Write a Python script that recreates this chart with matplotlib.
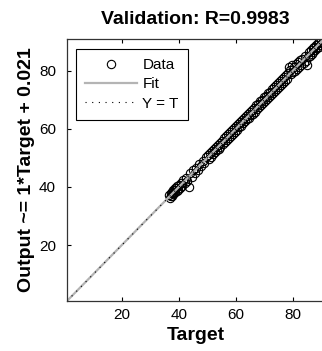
import matplotlib
matplotlib.use('Agg')
import matplotlib.pyplot as plt
import numpy as np
from matplotlib.font_manager import FontProperties

plt.rcParams['font.family'] = ['Liberation Sans', 'DejaVu Sans']
plt.rcParams['xtick.direction'] = 'in'
plt.rcParams['ytick.direction'] = 'in'
plt.rcParams['xtick.top'] = True
plt.rcParams['ytick.right'] = False

# validation data (targets vs network outputs)
targets = [36.6, 36.9, 37.1, 37.3, 37.5, 37.7, 37.9, 38.0, 38.2, 38.4,
           38.6, 38.8, 39.0, 39.2, 39.4, 39.7, 39.9, 40.3, 40.6, 41.0,
           41.5, 42.0, 42.6, 43.0, 43.5, 44.0, 44.5, 45.0, 45.5, 46.0,
           46.6, 47.2, 47.8, 48.4, 49.0, 49.6,
           50.2, 50.6, 51.0, 51.3, 51.6, 52.0, 52.3, 52.6, 53.0, 53.3,
           53.6, 54.0, 54.3, 54.6, 55.0, 55.4,
           56.0, 56.3, 56.7, 57.0, 57.4, 57.7, 58.1, 58.4, 58.8, 59.1,
           59.5, 59.8, 60.2, 60.5, 60.9, 61.2, 61.6, 61.9, 62.3, 62.6,
           63.0, 63.3, 63.7, 64.0, 64.4, 64.7, 65.1, 65.4, 65.8, 66.1,
           66.5, 66.8, 67.2, 67.5, 67.9, 68.2, 68.6, 68.9, 69.3, 69.6,
           70.0, 70.3, 70.7, 71.0, 71.4, 71.7, 72.1, 72.4, 72.8, 73.1,
           73.5, 73.8, 74.2, 74.5, 74.9, 75.2, 75.6, 75.9, 76.3, 76.6,
           77.0, 77.4, 77.8, 78.1, 78.5, 78.8, 79.2, 79.5, 79.9, 80.2,
           80.6, 80.9, 81.3, 81.6, 82.0, 82.3, 82.7, 83.0, 83.4, 83.8,
           84.2, 84.6, 85.0, 85.5,
           85.8, 86.1, 86.4, 86.7, 87.0, 87.3, 87.6, 87.9, 88.2, 88.5,
           88.8, 89.1, 89.4, 89.7, 90.0, 90.3]
outputs = [37.4, 36.2, 38.0, 36.9, 38.3, 37.0, 38.9, 37.5, 39.1, 37.8,
           39.5, 38.1, 39.8, 38.6, 40.2, 39.0, 40.7, 39.6, 41.3, 40.4,
           42.3, 41.4, 43.2, 42.1, 40.0, 44.7, 43.6, 45.7, 44.8, 46.5,
           45.9, 47.9, 47.1, 49.0, 48.3, 50.2,
           51.0, 49.6, 51.8, 50.5, 52.5, 51.2, 53.2, 51.9, 53.9, 52.6,
           54.5, 53.2, 55.1, 53.9, 55.8, 54.7,
           56.9, 55.6, 57.5, 56.3, 58.2, 57.0, 58.9, 57.6, 59.7, 58.4,
           60.3, 59.0, 61.1, 59.8, 61.6, 60.5, 62.5, 61.1, 63.1, 61.9,
           63.8, 62.6, 64.4, 63.3, 65.3, 63.9, 65.8, 64.8, 66.6, 65.3,
           67.3, 66.0, 68.1, 66.8, 68.6, 67.6, 69.5, 68.2, 70.0, 69.0,
           70.9, 69.6, 71.5, 70.3, 72.3, 71.0, 72.9, 71.7, 73.7, 72.4,
           74.3, 73.2, 75.1, 73.8, 75.8, 74.5, 76.5, 75.2, 77.2, 75.9,
           77.9, 76.6, 78.5, 77.2, 79.4, 81.3, 80.2, 78.8, 82.0, 79.5,
           81.5, 80.1, 82.3, 80.8, 83.0, 81.5, 83.6, 82.1, 84.2, 82.9,
           85.1, 83.5, 82.1, 84.9,
           86.6, 85.3, 87.2, 85.9, 87.8, 86.5, 88.4, 87.1, 89.0, 87.8,
           89.6, 88.3, 90.1, 89.0, 90.6, 89.7]
fit_slope = 1.0
fit_offset = 0.021
lims = (0.7, 91.0)
ticks = [20, 40, 60, 80]

small_font = FontProperties(family=['Liberation Sans Narrow', 'Liberation Sans'], size=11)

fig = plt.figure(figsize=(3.22, 3.51), dpi=100)
ax = fig.add_axes([67 / 322, 50 / 351, 257 / 322, 262 / 351])

xs = np.array(lims)
ax.plot(targets, outputs, 'o', mfc='none', mec='black', ms=6, mew=0.8, label='Data')
ax.plot(xs, fit_slope * xs + fit_offset, '-', color='#b4b4b4', lw=1.6, label='Fit')
ax.plot(xs, xs, color='black', lw=0.8, dashes=(1, 5), label='Y = T')

ax.set_xlim(lims)
ax.set_ylim(lims)
ax.set_xticks(ticks)
ax.set_yticks(ticks)
ax.tick_params(length=3, width=0.8)
ax.tick_params(axis='x', pad=5)
ax.tick_params(axis='y', pad=8)
for label in ax.get_xticklabels() + ax.get_yticklabels():
    label.set_fontproperties(small_font)
for s in ax.spines.values():
    s.set_linewidth(0.9)
    s.set_color('#333333')

ax.set_title('Validation: R=0.9983', fontsize=14, fontweight='bold', pad=11)
ax.set_xlabel('Target', fontsize=14, fontweight='bold', labelpad=4)
ax.set_ylabel('Output ~= 1*Target + 0.021', fontsize=14, fontweight='bold', labelpad=3)

leg = ax.legend(loc='upper left', bbox_to_anchor=(0.035, 0.962), borderaxespad=0,
                prop=small_font, fancybox=False, edgecolor='black', framealpha=1,
                handlelength=3.4, handletextpad=0.35, borderpad=0.6, labelspacing=0.35)
leg.get_frame().set_linewidth(0.8)

fig.savefig('out.png', dpi=100)
